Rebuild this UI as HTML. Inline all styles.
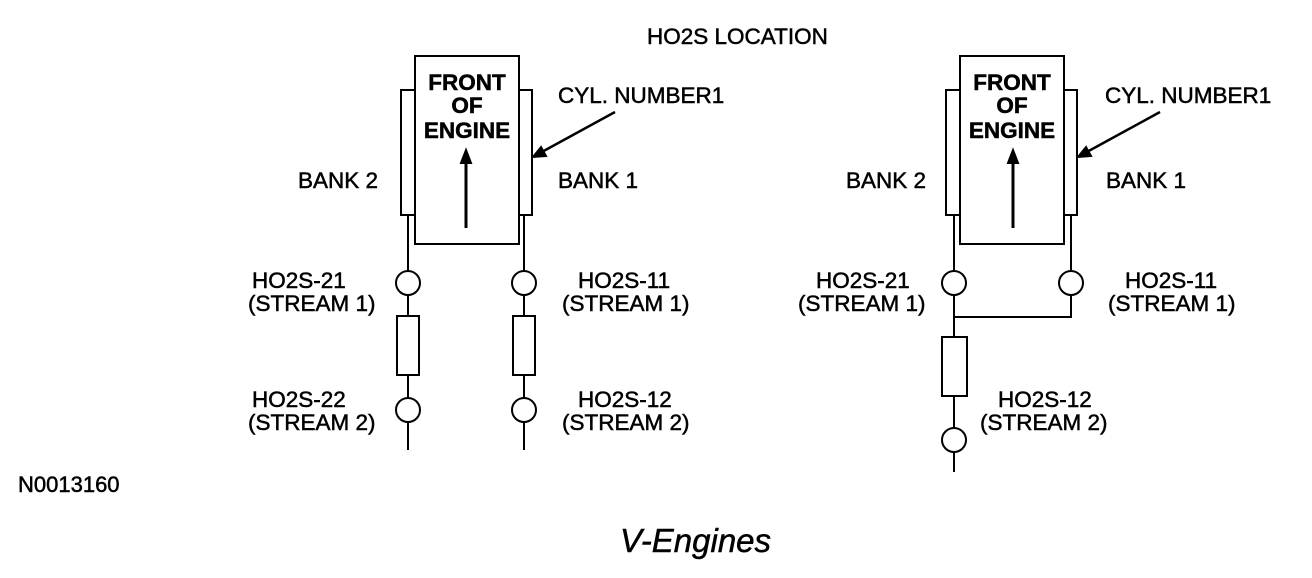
<!DOCTYPE html>
<html><head><style>
body{margin:0;background:#fff;width:1312px;height:578px;overflow:hidden}
svg{display:block}
text{font-family:"Liberation Sans",Arial,sans-serif;font-size:22.5px;fill:#000;stroke:#000;stroke-width:0.5}
</style></head><body>
<svg width="1312" height="578" viewBox="0 0 1312 578">
<g stroke="#000" stroke-width="2" fill="none">
<rect x="401" y="90" width="14" height="125"/>
<rect x="519" y="90" width="13" height="125"/>
<rect x="415" y="56" width="104" height="188" fill="#fff"/>
<line x1="466" y1="228" x2="466" y2="160" stroke-width="3"/>
<path d="M461,163 L466,150 L471,163z" fill="#000"/>
<line x1="408" y1="215" x2="408" y2="271"/><circle cx="408" cy="283" r="12"/>
<line x1="408" y1="295" x2="408" y2="316"/><rect x="397" y="316" width="22" height="59"/>
<line x1="408" y1="375" x2="408" y2="398"/><circle cx="408" cy="410" r="12"/>
<line x1="408" y1="422" x2="408" y2="450"/>
<line x1="524" y1="215" x2="524" y2="271"/><circle cx="524" cy="283" r="12"/>
<line x1="524" y1="295" x2="524" y2="316"/><rect x="513" y="316" width="22" height="59"/>
<line x1="524" y1="375" x2="524" y2="398"/><circle cx="524" cy="410" r="12"/>
<line x1="524" y1="422" x2="524" y2="450"/>
<line x1="615" y1="112" x2="540" y2="153" stroke-width="2.5"/>
<path d="M533,157 L541,147 L546,156z" fill="#000"/>
<rect x="946" y="90" width="14" height="125"/>
<rect x="1064" y="90" width="13" height="125"/>
<rect x="960" y="56" width="104" height="188" fill="#fff"/>
<line x1="1013" y1="228" x2="1013" y2="160" stroke-width="3"/>
<path d="M1008,163 L1013,150 L1018,163z" fill="#000"/>
<line x1="954" y1="215" x2="954" y2="271"/><circle cx="954" cy="283" r="12"/>
<line x1="1071" y1="215" x2="1071" y2="271"/><circle cx="1071" cy="283" r="12"/>
<path d="M954,295 L954,337 M954,317 L1071,317 L1071,295"/>
<rect x="942" y="337" width="25" height="59"/>
<line x1="954" y1="396" x2="954" y2="428"/><circle cx="954" cy="440" r="12"/>
<line x1="954" y1="452" x2="954" y2="472"/>
<line x1="1160" y1="112" x2="1085" y2="153" stroke-width="2.5"/>
<path d="M1078,157 L1086,147 L1091,156z" fill="#000"/>
</g>
<text x="647" y="44">HO2S LOCATION</text>
<g text-anchor="middle" style="font-weight:bold;font-size:21px">
<text x="467" y="90">FRONT</text><text x="467" y="113">OF</text><text x="467" y="138">ENGINE</text>
<text x="1012" y="90">FRONT</text><text x="1012" y="113">OF</text><text x="1012" y="138">ENGINE</text>
</g>
<text x="558" y="103">CYL. NUMBER1</text>
<text x="1105" y="103">CYL. NUMBER1</text>
<text x="298" y="188">BANK 2</text><text x="558" y="188">BANK 1</text>
<text x="846" y="188">BANK 2</text><text x="1106" y="188">BANK 1</text>
<text x="252" y="288">HO2S-21</text><text x="248" y="311">(STREAM 1)</text>
<text x="578" y="288">HO2S-11</text><text x="562" y="311">(STREAM 1)</text>
<text x="252" y="407">HO2S-22</text><text x="248" y="430">(STREAM 2)</text>
<text x="578" y="407">HO2S-12</text><text x="562" y="430">(STREAM 2)</text>
<text x="816" y="288">HO2S-21</text><text x="798" y="311">(STREAM 1)</text>
<text x="1125" y="288">HO2S-11</text><text x="1108" y="311">(STREAM 1)</text>
<text x="998" y="407">HO2S-12</text><text x="980" y="430">(STREAM 2)</text>
<text x="18" y="492" style="font-size:22px">N0013160</text>
<text x="620" y="552" style="font-size:33px;font-style:italic">V-Engines</text>
</svg>
</body></html>
